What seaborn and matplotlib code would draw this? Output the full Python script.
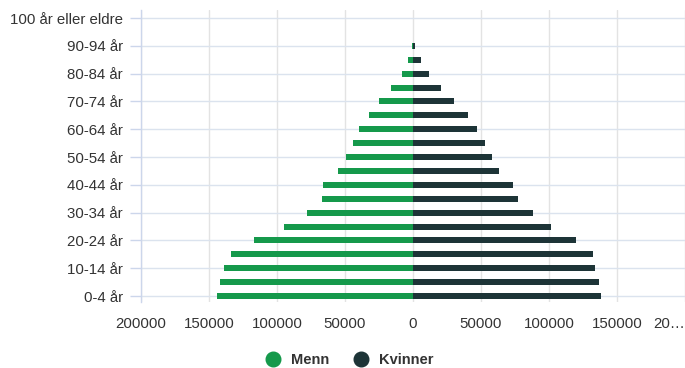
import matplotlib
matplotlib.use("Agg")
import matplotlib.pyplot as plt
from matplotlib.lines import Line2D
import seaborn as sns
import pandas as pd

# Age groups, youngest first
age_groups = [
    "0-4 år", "5-9 år", "10-14 år", "15-19 år", "20-24 år", "25-29 år",
    "30-34 år", "35-39 år", "40-44 år", "45-49 år", "50-54 år", "55-59 år",
    "60-64 år", "65-69 år", "70-74 år", "75-79 år", "80-84 år", "85-89 år",
    "90-94 år", "95-99 år", "100 år eller eldre",
]
menn = [
    143800, 142100, 138700, 133600, 116600, 95100, 78100, 67200, 66200,
    55300, 49100, 44000, 39900, 32100, 24600, 16100, 8200, 3400, 600, 100, 10,
]
kvinner = [
    138000, 136500, 133800, 132100, 120200, 101500, 88100, 77600, 73500,
    63000, 58200, 53100, 47200, 40400, 30200, 20900, 11700, 5600, 1200, 200, 20,
]
x_ticks = [-200000, -150000, -100000, -50000, 0, 50000, 100000, 150000, 200000]
x_tick_labels = ["200000", "150000", "100000", "50000", "0",
                 "50000", "100000", "150000", "20…"]
series_names = ["Menn", "Kvinner"]
series_colors = ["#15994b", "#1d3437"]

df = pd.DataFrame({
    "alder": age_groups * 2,
    "kjonn": ["Menn"] * len(age_groups) + ["Kvinner"] * len(age_groups),
    "antall": [-v for v in menn] + kvinner,
})

sns.set_theme(style="white")
plt.rcParams["font.family"] = ["Liberation Sans", "DejaVu Sans"]

fig = plt.figure(figsize=(6.85, 3.68), dpi=100)
ax = fig.add_axes([0.2058, 0.1793, 0.796, 0.7935])

order = age_groups[::-1]  # oldest at the top
sns.barplot(
    data=df, x="antall", y="alder", hue="kjonn", order=order,
    hue_order=series_names, palette=series_colors, dodge=False,
    width=0.43, orient="h", ax=ax, legend=False, saturation=1,
    linewidth=0,
)

ax.set_xlim(-200000, 201000)
ax.set_ylim(len(age_groups) - 1 + 0.43, -0.58)

# Only every other age group is labelled
label_idx = list(range(0, len(age_groups), 2))
ax.set_yticks([order.index(age_groups[i]) for i in label_idx])
ax.set_yticklabels([age_groups[i] for i in label_idx])
ax.set_xticks(x_ticks)
ax.set_xticklabels(x_tick_labels)
ax.get_xticklabels()[-1].set_horizontalalignment("right")

ax.set_xlabel("")
ax.set_ylabel("")

ax.grid(True, axis="x", color="#e3e3e3", linewidth=1)
ax.grid(True, axis="y", color="#dbe3ee", linewidth=1)
ax.set_axisbelow(True)

for side in ["top", "right", "bottom"]:
    ax.spines[side].set_visible(False)
ax.spines["left"].set_color("#ccd6eb")
ax.spines["left"].set_linewidth(1)

ax.tick_params(axis="y", length=8, width=1, color="#ccd6eb", pad=5,
               labelsize=10.8, labelcolor="#333333", left=True)
ax.tick_params(axis="x", length=0, pad=11, labelsize=10.8, labelcolor="#333333")

handles = [
    Line2D([0], [0], marker="o", linestyle="", markersize=10.5,
           markerfacecolor=c, markeredgecolor=c)
    for c in series_colors
]
fig.legend(
    handles, series_names, loc="center", bbox_to_anchor=(0.505, 0.022),
    ncol=2, frameon=False, handletextpad=0.25, columnspacing=1.2,
    prop={"weight": "bold", "size": 10.5}, labelcolor="#333333",
)

fig.savefig("out.png", dpi=100)
